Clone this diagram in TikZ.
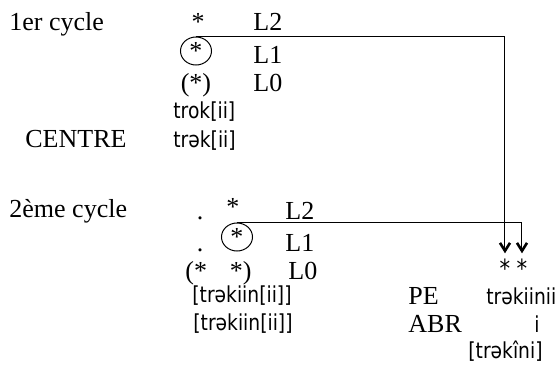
\documentclass[tikz,border=0pt]{standalone}
\usepackage{fontspec}
\setmainfont{Liberation Serif}
\newfontfamily\ipa[FakeStretch=0.85]{DejaVu Sans}
\usetikzlibrary{arrows.meta,shapes.geometric}
\begin{document}
\begin{tikzpicture}[x=0.5pt,y=-0.5pt,
 lab/.style={font=\fontsize{13}{15}\selectfont, inner sep=0pt, anchor=base west},
 ph/.style={font=\ipa\fontsize{11}{13}\selectfont, inner sep=0pt, anchor=base west},
 star/.style={font=\fontsize{13}{15}\selectfont, inner sep=0pt},
 pstar/.style={font=\ipa\fontsize{12.5}{14}\selectfont, inner sep=0pt},
 ring/.style={draw, ellipse, minimum width=15.5pt, minimum height=14pt, inner sep=0pt, line width=0.5pt},
 conn/.style={line width=0.5pt, -{Straight Barb[length=4pt,width=5pt,line width=1.3pt]}, shorten >=2.5pt}]
\useasboundingbox (0,0) rectangle (559,375);
% first cycle
\node[lab] (cyc1) at (9,31) {1er cycle};
\node[star, anchor=base] (st1) at (198,31) {*};
\node[lab] (L2a) at (253,31) {L2};
\node[ring] (c1) at (196,51) {};
\node[star] (cs1) at (196,51) {*};
\node[lab] (L1a) at (253,63) {L1};
\node[star, anchor=base] (par1) at (196,91) {(*)};
\node[lab] (L0a) at (253,91) {L0};
\node[ph] (trok) at (173,119) {trok[ii]};
\node[lab] (centre) at (25,148) {CENTRE};
\node[ph] (trek) at (173,148) {trək[ii]};
% second cycle
\node[lab] (cyc2) at (9,218) {2ème cycle};
\node[star, anchor=base] (dot1) at (200,220) {.};
\node[star] (st2) at (233,207) {*};
\node[lab] (L2b) at (285,220) {L2};
\node[star, anchor=base] (dot2) at (200,252) {.};
\node[ring] (c2) at (237,237) {};
\node[star] (cs2) at (237,237) {*};
\node[lab] (L1b) at (285,252) {L1};
\node[star, anchor=base west] (pa) at (185,280) {(*};
\node[star, anchor=base east] (pb) at (252,280) {*)};
\node[lab] (L0b) at (288,280) {L0};
\node[ph] (trk1) at (192,303) {[trəkiin[ii]]};
\node[ph] (trk2) at (193,331) {[trəkiin[ii]]};
% right part
\node[pstar] (s1) at (505,268) {*};
\node[pstar] (s2) at (522,268) {*};
\node[lab] (pe) at (408,305) {PE};
\node[ph] (pef) at (486,305) {trəkiinii};
\node[lab] (abr) at (408,333) {ABR};
\node[ph, anchor=base] (abri) at (537,333) {i};
\node[ph] (fin) at (468,358) {[trəkîni]};
% connectors
\draw[conn] (c1.north) -| (s1.north);
\draw[conn] (c2.north) -| (s2.north);
\end{tikzpicture}
\end{document}
